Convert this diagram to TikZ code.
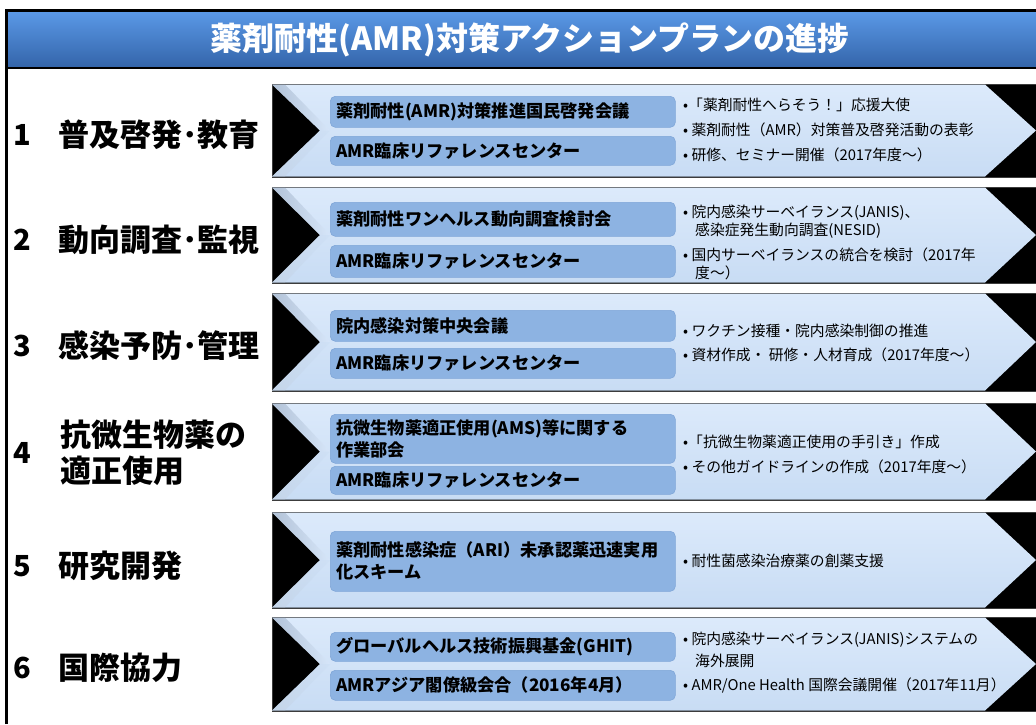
\documentclass[tikz,border=0pt]{standalone}
\usepackage{fontspec}
\setmainfont{Noto Sans CJK JP}
\definecolor{titleTop}{HTML}{5A98E6}
\definecolor{titleBot}{HTML}{3465AA}
\definecolor{panelTop}{HTML}{DCEAFB}
\definecolor{panelBot}{HTML}{C8DCF4}
\definecolor{boxblue}{HTML}{8DB3E2}
\definecolor{boxedge}{HTML}{7FA6D8}
\definecolor{panelLine}{HTML}{3C3C3C}
\definecolor{bevel}{HTML}{7F93AD}
\tikzset{
  titletxt/.style={text=white, font=\bfseries\fontsize{32}{36}\selectfont, inner sep=0pt},
  panelbg/.style={fill=black, draw=panelLine, line width=1pt},
  panelfill/.style={top color=panelTop, bottom color=panelBot},
  orgbox/.style={anchor=north west, fill=boxblue, draw=boxedge, line width=0.6pt,
    rounded corners=5pt, minimum width=345pt, text width=333pt, inner xsep=6pt,
    inner ysep=0pt, align=left, font=\bfseries\fontsize{17.2}{22}\selectfont},
  bullettxt/.style={anchor=west, inner sep=0pt, font=\fontsize{14.8}{18}\selectfont},
  rownum/.style={anchor=west, inner sep=0pt, font=\bfseries\fontsize{29}{36}\selectfont},
  rowlabel/.style={anchor=west, inner sep=0pt, align=left, font=\bfseries\fontsize{31}{36}\selectfont},
}
\newcommand\chevpanel[3]{%
  \path[panelbg] (272,#2) rectangle (1040,#3);
  \pgfmathsetmacro\midy{(#2+#3)/2}
  \shade[panelfill] (272,#2+0.5) -- (985,#2+0.5) -- (1036,\midy) -- (985,#3-0.5) -- (272,#3-0.5) -- (320,\midy) -- cycle;
  \shade[left color=bevel, right color=panelTop, opacity=0.45] (272,#2+0.5) -- (320,\midy) -- (330,\midy) -- (285,#2+0.5) -- cycle;
  \shade[left color=bevel!50, right color=panelBot, opacity=0.35] (272,#3-0.5) -- (320,\midy) -- (330,\midy) -- (285,#3-0.5) -- cycle;
  \coordinate (#1) at (272,\midy);
}
\begin{document}
\begin{tikzpicture}[x=1pt,y=-1pt]
\useasboundingbox (0,0) rectangle (1036,724);
\fill[white] (0,0) rectangle (1036,724);
% title band
\shade[top color=titleTop, bottom color=titleBot] (7,12) rectangle (1036,67);
\draw[black, line width=3pt] (6.5,724) -- (6.5,10) -- (1036,10);
\draw[black, line width=1.5pt] (6.5,68) -- (1036,68);
\node[titletxt] (title) at (530,40) {薬剤耐性(AMR)対策アクションプランの進捗};

% panels
\chevpanel{p1}{84}{177}
\chevpanel{p2}{187}{283}
\chevpanel{p3}{293}{391}
\chevpanel{p4}{403}{500}
\chevpanel{p5}{512}{608}
\chevpanel{p6}{617}{711}

% row labels
\node[rownum] (n1) at (13,135) {1};
\node[rowlabel] (l1) at (58,135) {普及啓発･教育};
\node[rownum] (n2) at (13,240) {2};
\node[rowlabel] (l2) at (58,240) {動向調査･監視};
\node[rownum] (n3) at (13,346) {3};
\node[rowlabel] (l3) at (58,346) {感染予防･管理};
\node[rownum] (n4) at (13,453) {4};
\node[rowlabel] (l4a) at (60,435) {抗微生物薬の};
\node[rowlabel] (l4b) at (60,471) {適正使用};
\node[rownum] (n5) at (13,566) {5};
\node[rowlabel] (l5) at (58,566) {研究開発};
\node[rownum] (n6) at (13,668) {6};
\node[rowlabel] (l6) at (58,668) {国際協力};

% row 1
\node[orgbox, minimum height=31pt] (b1a) at (330,96) {薬剤耐性(AMR)対策推進国民啓発会議};
\node[orgbox, minimum height=29pt] (b1b) at (330,136) {AMR臨床リファレンスセンター};
\node[bullettxt] (t1a) at (683,105) {•「薬剤耐性へらそう！」応援大使};
\node[bullettxt] (t1b) at (683,130) {• 薬剤耐性（AMR）対策普及啓発活動の表彰};
\node[bullettxt] (t1c) at (683,155) {• 研修、セミナー開催（2017年度～）};

% row 2
\node[orgbox, minimum height=34pt] (b2a) at (330,202) {薬剤耐性ワンヘルス動向調査検討会};
\node[orgbox, minimum height=32pt] (b2b) at (330,245) {AMR臨床リファレンスセンター};
\node[bullettxt] (t2a) at (683,213) {• 院内感染サーベイランス(JANIS)、};
\node[bullettxt] (t2b) at (695,231) {感染症発生動向調査(NESID)};
\node[bullettxt] (t2c) at (683,255) {• 国内サーベイランスの統合を検討（2017年};
\node[bullettxt] (t2d) at (695,273) {度～）};

% row 3
\node[orgbox, minimum height=31pt] (b3a) at (330,310) {院内感染対策中央会議};
\node[orgbox, minimum height=30pt] (b3b) at (330,348) {AMR臨床リファレンスセンター};
\node[bullettxt] (t3a) at (683,331) {• ワクチン接種・院内感染制御の推進};
\node[bullettxt] (t3b) at (683,355) {• 資材作成・ 研修・人材育成（2017年度～）};

% row 4
\node[orgbox, minimum height=49pt] (b4a) at (330,414) {抗微生物薬適正使用(AMS)等に関する\\作業部会};
\node[orgbox, minimum height=28pt] (b4b) at (330,466) {AMR臨床リファレンスセンター};
\node[bullettxt] (t4a) at (683,442) {•「抗微生物薬適正使用の手引き」作成};
\node[bullettxt] (t4b) at (683,467) {• その他ガイドラインの作成（2017年度～）};

% row 5
\node[orgbox, minimum height=60pt] (b5a) at (330,531) {薬剤耐性感染症（ARI）未承認薬迅速実用\\化スキーム};
\node[bullettxt] (t5a) at (683,561) {• 耐性菌感染治療薬の創薬支援};

% row 6
\node[orgbox, minimum height=29pt] (b6a) at (330,632) {グローバルヘルス技術振興基金(GHIT)};
\node[orgbox, minimum height=30pt] (b6b) at (330,670) {AMRアジア閣僚級会合（2016年4月）};
\node[bullettxt] (t6a) at (683,640) {• 院内感染サーベイランス(JANIS)システムの};
\node[bullettxt] (t6b) at (695,661) {海外展開};
\node[bullettxt] (t6c) at (683,685) {• AMR/One Health 国際会議開催（2017年11月）};
\end{tikzpicture}
\end{document}
